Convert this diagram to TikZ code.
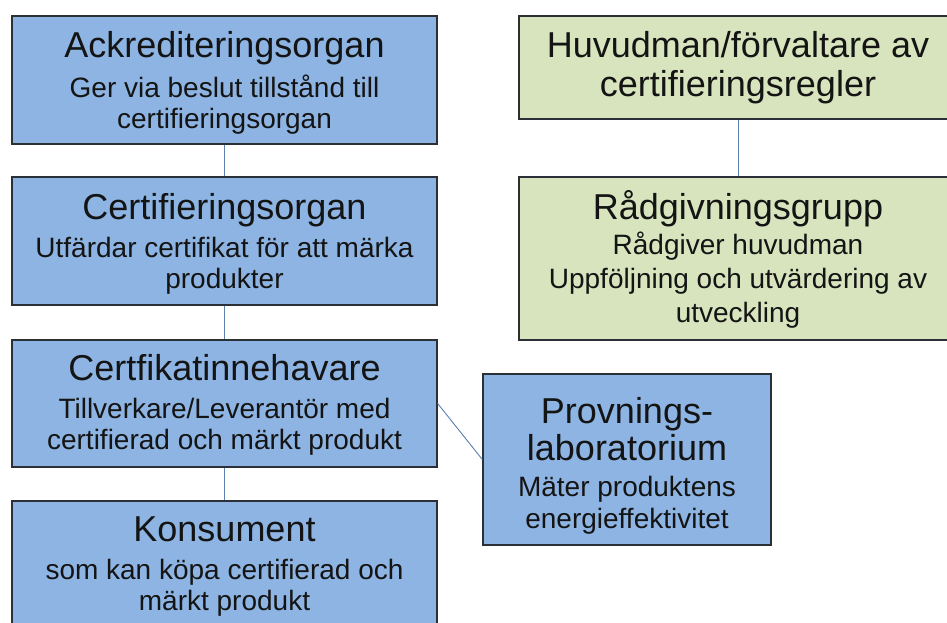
\documentclass[tikz,border=0pt]{standalone}
\usepackage{fontspec}
\setmainfont{Liberation Sans}
\definecolor{boxblue}{HTML}{8DB4E2}
\definecolor{boxgreen}{HTML}{D7E4BD}
\definecolor{boxedge}{HTML}{2B2F36}
\definecolor{linkcol}{HTML}{5B82AE}
\newcommand\ttlfont{\fontsize{36}{39}\selectfont}
\begin{document}
\begin{tikzpicture}[x=1pt,y=-1pt,
  box/.style={draw=boxedge, line width=1.3pt, inner sep=0pt},
  bluebox/.style={box, fill=boxblue},
  greenbox/.style={box, fill=boxgreen},
  txt/.style={anchor=base, inner sep=0pt, text=black!92, font=\fontsize{28}{31}\selectfont},
  conn/.style={draw=linkcol, line width=0.9pt}]
\clip (0,0) rectangle (947,623);
\fill[white] (0,0) rectangle (947,623);

% boxes
\node[bluebox, minimum width=425pt, minimum height=128pt] (acc) at (224.5,80) {};
\node[bluebox, minimum width=425pt, minimum height=128pt] (cert) at (224.5,241) {};
\node[bluebox, minimum width=425pt, minimum height=127pt] (inne) at (224.5,403.5) {};
\node[bluebox, minimum width=425pt, minimum height=131pt] (kons) at (224.5,566.5) {};
\node[greenbox, minimum width=438pt, minimum height=103pt] (huv) at (738,67.5) {};
\node[greenbox, minimum width=438pt, minimum height=163pt] (rad) at (738,258.5) {};
\node[bluebox, minimum width=288pt, minimum height=171pt] (prov) at (627,459.5) {};

% connectors
\draw[conn] (acc.south) -- (cert.north);
\draw[conn] (cert.south) -- (inne.north);
\draw[conn] (inne.south) -- (kons.north);
\draw[conn] (huv.south) -- (rad.north);
\draw[conn] (inne.east) -- (prov.west);

% texts
\node[txt] (acc-t) at (224.5,58) {\begin{tabular}[t]{@{}c@{}}{\ttlfont Ackrediteringsorgan}\\[8pt]Ger via beslut tillstånd till\\certifieringsorgan\end{tabular}};
\node[txt] (cert-t) at (224.5,219) {\begin{tabular}[t]{@{}c@{}}{\ttlfont Certifieringsorgan}\\[7pt]Utfärdar certifikat för att märka\\produkter\end{tabular}};
\node[txt] (inne-t) at (224.5,380) {\begin{tabular}[t]{@{}c@{}}{\ttlfont Certfikatinnehavare}\\[7pt]Tillverkare/Leverantör med\\certifierad och märkt produkt\end{tabular}};
\node[txt] (kons-t) at (224.5,541) {\begin{tabular}[t]{@{}c@{}}{\ttlfont Konsument}\\[7pt]som kan köpa certifierad och\\märkt produkt\end{tabular}};
\node[txt, font=\fontsize{36}{39}\selectfont] (huv-t) at (738,58) {\begin{tabular}[t]{@{}c@{}}Huvudman/förvaltare av\\certifieringsregler\end{tabular}};
\node[txt, font=\fontsize{28}{34}\selectfont] (rad-t) at (738,219) {\begin{tabular}[t]{@{}c@{}}{\ttlfont Rådgivningsgrupp}\\[1pt]Rådgiver huvudman\\Uppföljning och utvärdering av\\utveckling\end{tabular}};
\node[txt, font=\fontsize{28}{32}\selectfont] (prov-t) at (627,423) {\begin{tabular}[t]{@{}c@{}}{\ttlfont Provnings-}\\[1.5pt]{\ttlfont laboratorium}\\[4pt]Mäter produktens\\energieffektivitet\end{tabular}};
\end{tikzpicture}
\end{document}
